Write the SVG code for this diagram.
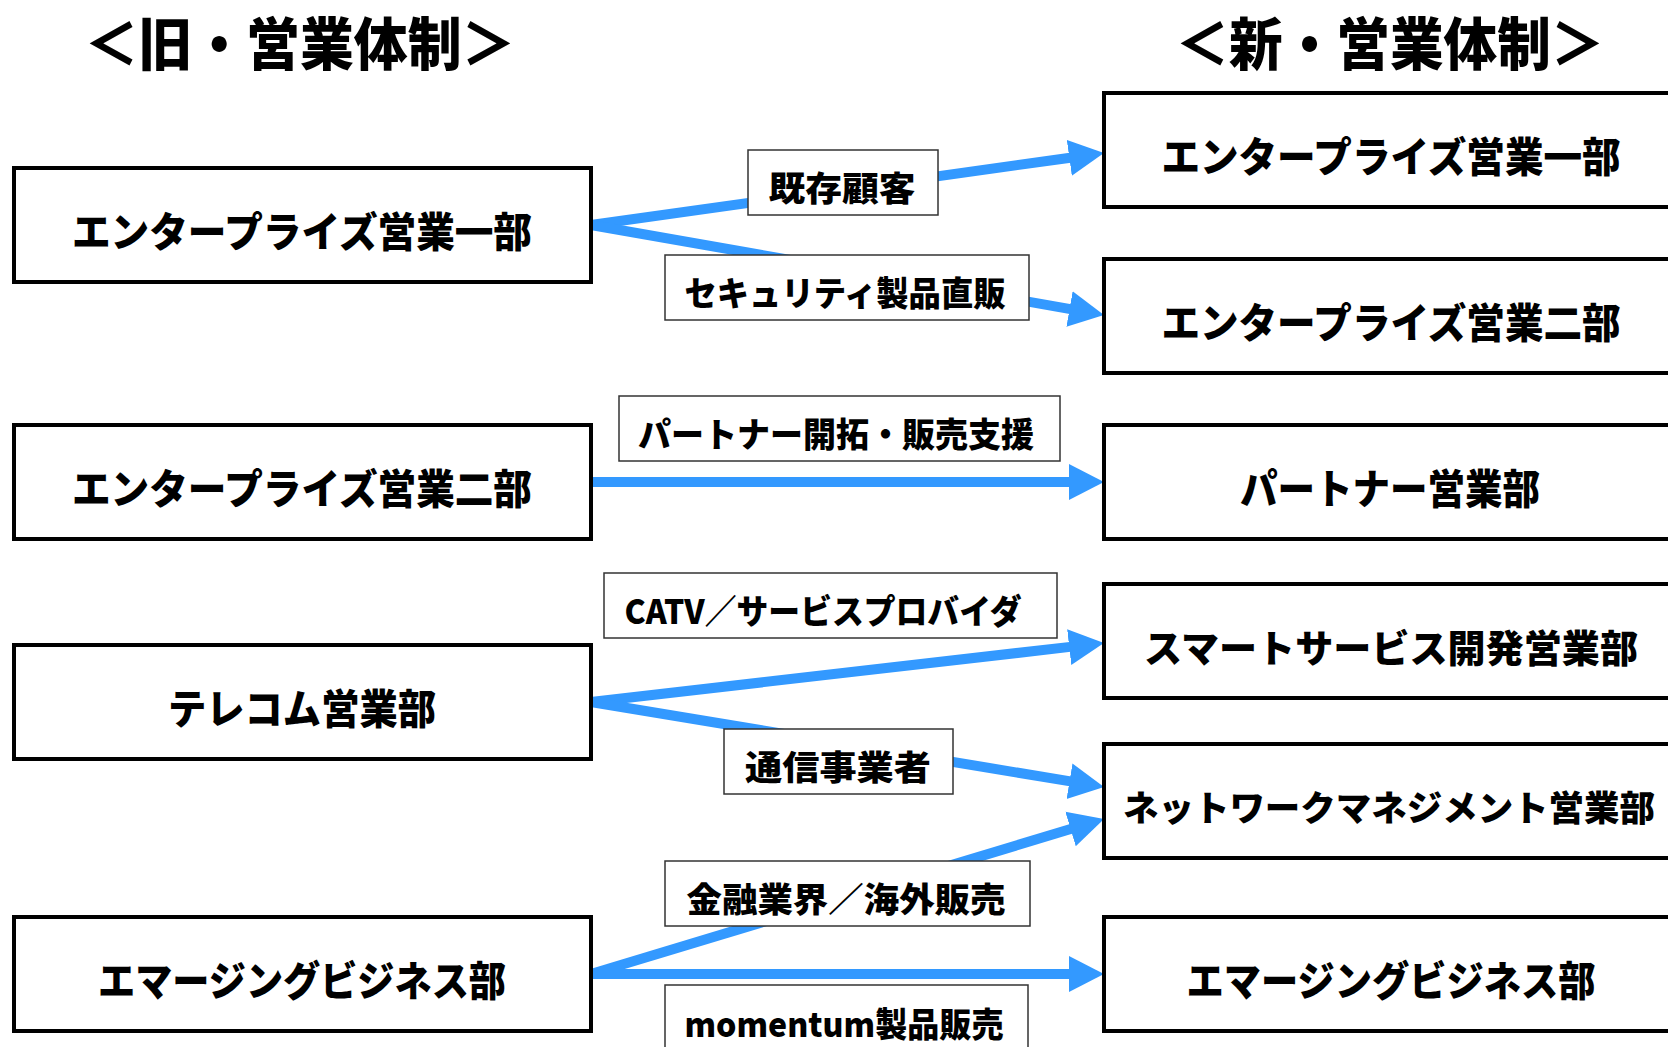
<svg xmlns="http://www.w3.org/2000/svg" width="1668" height="1047" viewBox="0 0 1668 1047">
<defs>
<style>
.title{font-family:"Noto Sans CJK JP","Noto Sans",sans-serif;font-weight:900;font-size:57px;fill:#000;text-anchor:middle;dominant-baseline:central}
.box{fill:#fff;stroke:#000;stroke-width:4}
.bt{font-family:"Noto Sans CJK JP","Noto Sans",sans-serif;font-weight:900;font-size:41px;fill:#000;text-anchor:middle;dominant-baseline:central}
.lbl{fill:#fff;stroke:#333;stroke-width:1.5}
.lt{font-family:"Noto Sans CJK JP","Noto Sans",sans-serif;font-weight:900;font-size:34px;fill:#000;text-anchor:middle;dominant-baseline:central}
.arr{fill:none;stroke:#3399FF;stroke-width:10;marker-end:url(#ah)}
</style>
<marker id="ah" markerUnits="userSpaceOnUse" markerWidth="36" markerHeight="40" viewBox="0 -20 36 40" refX="1" refY="0" orient="auto">
<path d="M0,-18 L35,0 L0,18 Z" fill="#3399FF"/>
</marker>
</defs>
<rect width="1668" height="1047" fill="#fff"/>

<g id="titles">
<text class="title" x="300" y="40" textLength="431" lengthAdjust="spacingAndGlyphs">＜旧・営業体制＞</text>
<text class="title" x="1390" y="40" textLength="429" lengthAdjust="spacingAndGlyphs">＜新・営業体制＞</text>
</g>

<g id="connectors">
<path class="arr" d="M591,225 L1070.3,157.7"/>
<path class="arr" d="M591,225 L1070.5,309.1"/>
<path class="arr" d="M591,482 L1070,482"/>
<path class="arr" d="M591,702 L1070.2,646.9"/>
<path class="arr" d="M591,702 L1070.5,781.4"/>
<path class="arr" d="M591,974 L1071.5,828.8"/>
<path class="arr" d="M591,974 L1070,974"/>
<g id="labels">
<rect class="lbl" x="748" y="150" width="190" height="65"/>
<text class="lt" x="842" y="186" textLength="147" lengthAdjust="spacingAndGlyphs">既存顧客</text>
<rect class="lbl" x="665" y="255" width="364" height="65"/>
<text class="lt" x="845" y="291" textLength="321" lengthAdjust="spacingAndGlyphs">セキュリティ製品直販</text>
<rect class="lbl" x="619" y="396" width="441" height="65"/>
<text class="lt" x="836" y="432" textLength="396" lengthAdjust="spacingAndGlyphs">パートナー開拓・販売支援</text>
<rect class="lbl" x="604" y="573" width="453" height="65"/>
<text class="lt" x="823" y="609" textLength="397" lengthAdjust="spacingAndGlyphs">CATV／サービスプロバイダ</text>
<rect class="lbl" x="724" y="729" width="229" height="65"/>
<text class="lt" x="838" y="765" textLength="186" lengthAdjust="spacingAndGlyphs">通信事業者</text>
<rect class="lbl" x="665" y="861" width="365" height="65"/>
<text class="lt" x="846" y="897" textLength="319" lengthAdjust="spacingAndGlyphs">金融業界／海外販売</text>
<rect class="lbl" x="665" y="985" width="363" height="70"/>
<text class="lt" x="844" y="1022" textLength="319" lengthAdjust="spacingAndGlyphs">momentum製品販売</text>
</g>
</g>

<g id="old-ent1"><rect class="box" x="14" y="168" width="577" height="114"/><text class="bt" x="302" y="229" textLength="460" lengthAdjust="spacingAndGlyphs">エンタープライズ営業一部</text></g>
<g id="old-ent2"><rect class="box" x="14" y="425" width="577" height="114"/><text class="bt" x="302" y="486" textLength="460" lengthAdjust="spacingAndGlyphs">エンタープライズ営業二部</text></g>
<g id="old-telecom"><rect class="box" x="14" y="645" width="577" height="114"/><text class="bt" x="302" y="706" textLength="268" lengthAdjust="spacingAndGlyphs">テレコム営業部</text></g>
<g id="old-emerging"><rect class="box" x="14" y="917" width="577" height="114"/><text class="bt" x="302" y="978" textLength="408" lengthAdjust="spacingAndGlyphs">エマージングビジネス部</text></g>

<g id="new-ent1"><rect class="box" x="1104" y="93" width="577" height="114"/><text class="bt" x="1391" y="154" textLength="459" lengthAdjust="spacingAndGlyphs">エンタープライズ営業一部</text></g>
<g id="new-ent2"><rect class="box" x="1104" y="259" width="577" height="114"/><text class="bt" x="1391" y="320" textLength="459" lengthAdjust="spacingAndGlyphs">エンタープライズ営業二部</text></g>
<g id="new-partner"><rect class="box" x="1104" y="425" width="577" height="114"/><text class="bt" x="1390" y="486" textLength="300" lengthAdjust="spacingAndGlyphs">パートナー営業部</text></g>
<g id="new-smart"><rect class="box" x="1104" y="584" width="577" height="114"/><text class="bt" x="1391" y="645" style="font-size:38px" textLength="494" lengthAdjust="spacingAndGlyphs">スマートサービス開発営業部</text></g>
<g id="new-network"><rect class="box" x="1104" y="744" width="577" height="114"/><text class="bt" x="1389" y="805" style="font-size:35.5px" textLength="532" lengthAdjust="spacingAndGlyphs">ネットワークマネジメント営業部</text></g>
<g id="new-emerging"><rect class="box" x="1104" y="917" width="577" height="114"/><text class="bt" x="1391" y="978" textLength="409" lengthAdjust="spacingAndGlyphs">エマージングビジネス部</text></g>
</svg>
